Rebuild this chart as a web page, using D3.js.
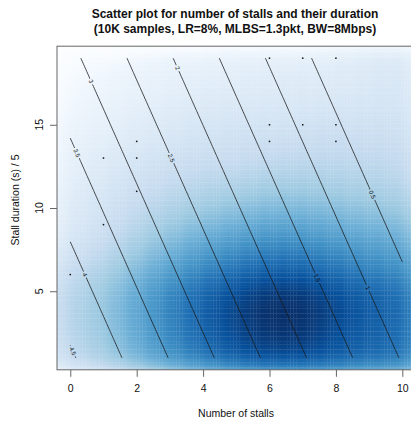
<!DOCTYPE html>
<html>
<head>
<meta charset="utf-8">
<script src="https://cdn.jsdelivr.net/npm/d3@7"></script>
<style>
body { margin: 0; background: #fff; }
text { font-family: "Liberation Sans", Arial, sans-serif; fill: #111; }
</style>
</head>
<body>
<svg width="411" height="424"></svg>
<script>
// data

var stalls = [0, 1, 2, 3, 4, 5, 6, 7, 8, 9, 10];
var durations = [1, 2, 3, 4, 5, 6, 7, 8, 9, 10, 11, 12, 13, 14, 15, 16, 17, 18, 19];

// samples per (stalls, duration) cell, one row per stall count
var cellCounts = [
  [18, 20, 22, 23, 21, 17, 12, 9, 7, 7, 6, 5, 5, 4, 4, 3, 3, 2, 2],
  [27, 30, 33, 34, 31, 25, 18, 14, 11, 10, 8, 7, 6, 5, 4, 4, 3, 3, 2],
  [55, 63, 69, 71, 65, 50, 36, 26, 19, 16, 13, 11, 9, 7, 6, 5, 4, 4, 3],
  [102, 118, 130, 134, 120, 90, 64, 45, 32, 24, 18, 14, 11, 9, 7, 6, 5, 4, 4],
  [160, 190, 210, 218, 195, 142, 100, 68, 47, 32, 24, 18, 14, 11, 9, 7, 6, 5, 4],
  [232, 280, 313, 323, 275, 190, 132, 90, 60, 40, 27, 19, 14, 12, 10, 8, 6, 5, 5],
  [286, 357, 403, 420, 357, 244, 168, 113, 76, 50, 34, 23, 17, 13, 10, 8, 7, 6, 5],
  [280, 348, 392, 407, 346, 236, 163, 110, 74, 49, 34, 24, 18, 14, 11, 8, 7, 6, 5],
  [240, 262, 285, 302, 262, 185, 132, 92, 64, 44, 31, 23, 18, 15, 12, 9, 7, 6, 6],
  [195, 208, 222, 231, 202, 146, 106, 75, 53, 37, 27, 21, 17, 14, 11, 9, 8, 7, 7],
  [190, 200, 205, 210, 185, 136, 100, 72, 52, 36, 27, 21, 18, 15, 13, 11, 10, 9, 9]
];

// low density samples drawn as dots
var sparseStalls   = [0, 1, 1, 2, 2, 2, 6, 6, 7, 8, 8, 6, 7, 8];
var sparseDuration = [6, 9, 13, 11, 13, 14, 14, 15, 15, 14, 15, 19, 19, 19];

// fitted surface: intercept, stalls, duration
var fitCoef = [4.64, -0.3597, -0.0803];
var contourLevels = [0.5, 1, 1.5, 2, 2.5, 3, 3.5, 4, 4.5];
var labelDuration = [10.8, 5.2, 5.8, 18.4, 13.0, 17.6, 13.3, 6.0, 1.4];

var xTicks = [0, 2, 4, 6, 8, 10];
var yTicks = [5, 10, 15];

var blues9 = ["#F7FBFF", "#DEEBF7", "#C6DBEF", "#9ECAE1", "#6BAED6", "#4292C6", "#2171B5", "#08519C", "#08306B"];

// chart

var svg = d3.select("svg");
var x = d3.scaleLinear().domain([-0.4, 10.4]).range([57, 415.6]);
var y = d3.scaleLinear().domain([0.28, 19.72]).range([369.8, 46.2]);

var defs = svg.append("defs");
defs.append("clipPath").attr("id", "plotclip").append("rect")
    .attr("x", x.range()[0]).attr("y", y.range()[1])
    .attr("width", x.range()[1] - x.range()[0])
    .attr("height", y.range()[0] - y.range()[1]);

// smoothed density (like smoothScatter)
var nbin = 128, bwStalls = 0.6, bwDur = 0.7;
var gx0 = -0.45, gx1 = 10.45, gy0 = 0.2, gy1 = 19.8;
var stepX = (gx1 - gx0) / (nbin - 1), stepY = (gy1 - gy0) / (nbin - 1);
var gxs = d3.range(nbin).map(function(i) { return gx0 + i * stepX; });
var gys = d3.range(nbin).map(function(j) { return gy0 + j * stepY; });

var wx = gxs.map(function(g) {
  return stalls.map(function(s) { return Math.exp(-(g - s) * (g - s) / (2 * bwStalls * bwStalls)); });
});
var rowSum = gys.map(function(g) {
  var wy = durations.map(function(d) { return Math.exp(-(g - d) * (g - d) / (2 * bwDur * bwDur)); });
  return cellCounts.map(function(row) { return d3.sum(row, function(c, b) { return c * wy[b]; }); });
});

var cells = [];
gys.forEach(function(gy, j) {
  gxs.forEach(function(gx, i) {
    var s = d3.sum(stalls, function(_, a) { return wx[i][a] * rowSum[j][a]; });
    cells.push({gx: gx, gy: gy, v: Math.pow(s, 0.25)});
  });
});

var vext = d3.extent(cells, function(d) { return d.v; });
var ramp = ["#FFFFFF"].concat(blues9);
var color = d3.scaleLinear()
    .domain(ramp.map(function(_, i) { return vext[0] + i * (vext[1] - vext[0]) / (ramp.length - 1); }))
    .range(ramp);

// small overlap keeps only faint raster seams
svg.append("g").attr("clip-path", "url(#plotclip)")
  .selectAll("rect").data(cells).enter().append("rect")
    .attr("x", function(d) { return x(d.gx - stepX / 2); })
    .attr("y", function(d) { return y(d.gy + stepY / 2); })
    .attr("width", x(stepX) - x(0) + 0.3)
    .attr("height", y(0) - y(stepY) + 0.3)
    .attr("fill", function(d) { return color(d.v); });

// contour lines of the fitted surface
var cStep = 0.1;
var cxs = d3.range(0, 10 + 1e-9, cStep);
var cys = d3.range(1, 19 + 1e-9, cStep);
var zvals = [];
cys.forEach(function(dv) {
  cxs.forEach(function(sv) { zvals.push(fitCoef[0] + fitCoef[1] * sv + fitCoef[2] * dv); });
});
var iso = d3.contours().size([cxs.length, cys.length]).thresholds(contourLevels)(zvals);

function isoRuns(ring, nx, ny) {
  var onEdge = function(p) { return p[0] <= 0 || p[0] >= nx || p[1] <= 0 || p[1] >= ny; };
  var last = ring[ring.length - 1];
  var n = (last[0] === ring[0][0] && last[1] === ring[0][1]) ? ring.length - 1 : ring.length;
  var k = 0;
  while (k < n && !onEdge(ring[k])) k++;
  var runs = [], cur = [];
  for (var m = 0; m <= n; m++) {
    var p = ring[(k + m) % n];
    if (onEdge(p)) { if (cur.length > 1) runs.push(cur); cur = []; }
    else cur.push([cxs[0] + (p[0] - 0.5) * cStep, cys[0] + (p[1] - 0.5) * cStep]);
  }
  if (cur.length > 1) runs.push(cur);
  return runs;
}

var lines = [], labels = [];
iso.forEach(function(c) {
  var li = contourLevels.indexOf(c.value);
  c.coordinates.forEach(function(poly) {
    poly.forEach(function(ring) {
      isoRuns(ring, cxs.length, cys.length).forEach(function(run) {
        lines.push(run);
        var target = labelDuration[li];
        for (var q = 1; q < run.length; q++) {
          var a = run[q - 1], b = run[q];
          if ((a[1] - target) * (b[1] - target) <= 0 && a[1] !== b[1]) {
            var t = (target - a[1]) / (b[1] - a[1]);
            var sx = a[0] + t * (b[0] - a[0]);
            var ang = Math.atan2(y(b[1]) - y(a[1]), x(b[0]) - x(a[0])) * 180 / Math.PI;
            if (ang > 90) ang -= 180;
            if (ang < -90) ang += 180;
            labels.push({text: String(c.value), px: x(sx), py: y(target), ang: ang});
            break;
          }
        }
      });
    });
  });
});

var mask = defs.append("mask").attr("id", "labelgap")
    .attr("maskUnits", "userSpaceOnUse")
    .attr("x", 0).attr("y", 0).attr("width", 411).attr("height", 424);
mask.append("rect").attr("width", 411).attr("height", 424).attr("fill", "#fff");

var lineGen = d3.line()
    .x(function(d) { return x(d[0]); })
    .y(function(d) { return y(d[1]); });

svg.append("g").attr("clip-path", "url(#plotclip)")
  .append("g").attr("mask", "url(#labelgap)")
  .selectAll("path").data(lines).enter().append("path")
    .attr("d", lineGen)
    .attr("fill", "none")
    .attr("stroke", "#1a1a1a")
    .attr("stroke-width", 0.8);

var lab = svg.append("g").selectAll("text").data(labels).enter().append("text")
    .attr("transform", function(d) { return "translate(" + d.px + "," + d.py + ") rotate(" + d.ang + ")"; })
    .attr("text-anchor", "middle")
    .attr("dy", "0.35em")
    .attr("font-size", 6)
    .text(function(d) { return d.text; });

lab.each(function(d) {
  var w = this.getComputedTextLength() + 3;
  mask.append("rect")
      .attr("x", -w / 2).attr("y", -3.5).attr("width", w).attr("height", 7)
      .attr("transform", "translate(" + d.px + "," + d.py + ") rotate(" + d.ang + ")")
      .attr("fill", "#000");
});

// sparse points
svg.append("g").selectAll("rect").data(d3.zip(sparseStalls, sparseDuration)).enter().append("rect")
    .attr("x", function(d) { return x(d[0]) - 0.75; })
    .attr("y", function(d) { return y(d[1]) - 0.75; })
    .attr("width", 1.5).attr("height", 1.5)
    .attr("fill", "#111");

// frame
svg.append("rect")
    .attr("x", x.range()[0]).attr("y", y.range()[1])
    .attr("width", x.range()[1] - x.range()[0])
    .attr("height", y.range()[0] - y.range()[1])
    .attr("fill", "none").attr("stroke", "#666").attr("stroke-width", 1);

// axes
var xAxis = svg.append("g")
    .attr("transform", "translate(0," + y.range()[0] + ")")
    .call(d3.axisBottom(x).tickValues(xTicks).tickSize(7).tickPadding(7.5).tickFormat(d3.format("d")));
xAxis.select(".domain").remove();
xAxis.selectAll("line").attr("stroke", "#666");
xAxis.selectAll("text").attr("font-size", 10.5).attr("font-family", null);

var yAxis = svg.append("g")
    .attr("transform", "translate(" + x.range()[0] + ",0)")
    .call(d3.axisLeft(y).tickValues(yTicks).tickSize(7).tickFormat(""));
yAxis.select(".domain").remove();
yAxis.selectAll("line").attr("stroke", "#666");

svg.append("g").selectAll("text").data(yTicks).enter().append("text")
    .attr("transform", function(d) { return "translate(39," + y(d) + ") rotate(-90)"; })
    .attr("text-anchor", "middle")
    .attr("dy", "0.35em")
    .attr("font-size", 10.5)
    .text(function(d) { return d; });

svg.append("text")
    .attr("x", 236).attr("y", 416.5)
    .attr("text-anchor", "middle")
    .attr("font-size", 10.5)
    .text("Number of stalls");

svg.append("text")
    .attr("transform", "translate(18.5,200) rotate(-90)")
    .attr("text-anchor", "middle")
    .attr("font-size", 10.5)
    .text("Stall duration (s) / 5");

// title
var title = svg.append("text")
    .attr("text-anchor", "middle")
    .attr("font-size", 12)
    .attr("font-weight", "bold");
title.append("tspan").attr("x", 235).attr("y", 18).text("Scatter plot for number of stalls and their duration");
title.append("tspan").attr("x", 235).attr("y", 32.5).text("(10K samples, LR=8%, MLBS=1.3pkt, BW=8Mbps)");
</script>
</body>
</html>
